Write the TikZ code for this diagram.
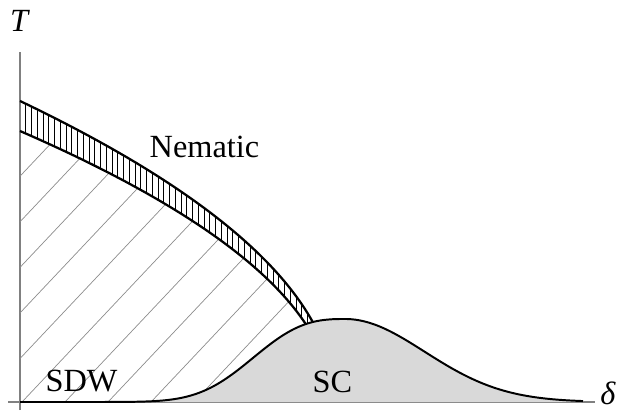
\documentclass[tikz,border=0pt]{standalone}
\usepackage{fontspec}
\setmainfont{Liberation Serif}
\usepackage{tikz}
\definecolor{axisgray}{RGB}{128,128,128}
\definecolor{hatchgray}{RGB}{140,140,140}
\definecolor{scfill}{RGB}{217,217,217}

\begin{document}
\begin{tikzpicture}[x=0.025cm,y=0.025cm,
  declare function={nemU(\x)=301*sqrt(1-\x/315); nemL(\x)=271*sqrt(1-\x/311.5);
    scL(\x)=83*exp(-((325-\x)/109)^2.7); scR(\x)=83*exp(-((\x-325)/112.5)*((\x-325)/112.5));},
  axisline/.style={axisgray,line width=1pt},
  hatch/.style={hatchgray,line width=0.5pt},
  stripe/.style={black,line width=0.65pt},
  bound/.style={black,line width=1.6pt},
  lab/.style={font=\fontsize{23}{27}\selectfont,inner sep=0pt}]
  \useasboundingbox (-20,-8) rectangle (601,402);
  % axes
  \coordinate (yb) at (0,-8);   \coordinate (yt) at (0,350);
  \coordinate (xl) at (-12,0);  \coordinate (xr) at (575,0);
  \draw[axisline] (yb) -- (yt);
  \draw[axisline] (xl) -- (xr);
  % SDW hatching below the lower line
  \begin{scope}
    \clip (0,0) -- plot[domain=0:286,samples=100] (\x,{nemL(\x)}) -- (286,0) -- cycle;
    \foreach \k in {-7,...,7}{\draw[hatch] ({2+43*\k},0) -- ++(300,318);}
  \end{scope}
  % nematic band: vertical stripes
  \begin{scope}
    \clip plot[domain=0:293.5,samples=100] (\x,{nemU(\x)}) -- plot[domain=286:0,samples=100] (\x,{nemL(\x)}) -- cycle;
    \foreach \i in {1,...,51}{\draw[stripe] ({5.75*\i},0) -- ++(0,320);}
  \end{scope}
  \draw[bound] plot[domain=0:293.5,samples=100] (\x,{nemU(\x)});
  \draw[bound] plot[domain=0:286,samples=100] (\x,{nemL(\x)});
  % SC dome
  \fill[scfill] (0,0) -- plot[domain=0:324.5,samples=110] (\x,{scL(\x)})
     -- plot[domain=325:563,samples=110] (\x,{scR(\x)}) -- (563,0) -- cycle;
  \draw[bound,line width=1.4pt] plot[domain=0:324.5,samples=110] (\x,{scL(\x)})
     -- plot[domain=325:563,samples=110] (\x,{scR(\x)});
  % labels
  \node[lab,anchor=base] (tlab) at (0,371) {\textit{T}};
  \node[lab,anchor=base west] (dlab) at (580,-2) {\textit{δ}};
  \node[lab,anchor=base] (nem) at (184.5,245) {Nematic};
  \node[lab,anchor=base] (sdw) at (61.5,11) {SDW};
  \node[lab,anchor=base] (sc) at (312.5,10) {SC};
\end{tikzpicture}
\end{document}
